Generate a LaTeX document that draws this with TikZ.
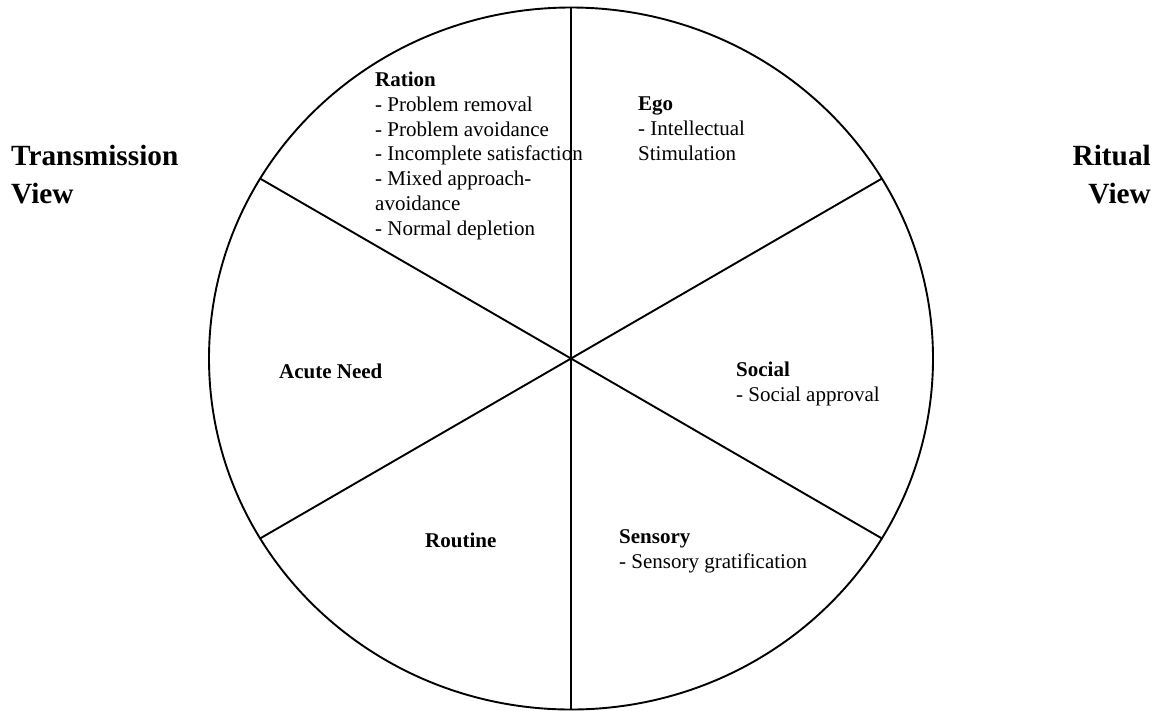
\documentclass[tikz,border=0pt]{standalone}
\usepackage{fontspec}
\setmainfont{Liberation Serif}
\begin{document}
\begin{tikzpicture}[x=1pt,y=-1pt,
  seg/.style={line width=1.9pt, line cap=round},
  lbl/.style={anchor=base west, inner sep=0pt, align=left, font=\fontsize{21}{24.7}\selectfont},
  side/.style={inner sep=0pt, font=\fontsize{29.3}{38}\selectfont\bfseries}]
\useasboundingbox (0,0) rectangle (1153,710);
\coordinate (c) at (571,358.5);
\draw[seg] (c) ellipse [x radius=362, y radius=351];
\coordinate (top) at (571,7.5);
\coordinate (bot) at (571,709.5);
\coordinate (ul) at (260,178.5);
\coordinate (ur) at (882,178.5);
\coordinate (ll) at (260,538.5);
\coordinate (lr) at (882,538.5);
\draw[seg] (top) -- (bot);
\draw[seg] (ul) -- (lr);
\draw[seg] (ur) -- (ll);
% multi-line nodes: base anchor = last line baseline
\node[lbl] (ration) at (375,235) {\textbf{Ration}\\- Problem removal\\- Problem avoidance\\- Incomplete satisfaction\\- Mixed approach-\\avoidance\\- Normal depletion};
\node[lbl] (ego) at (638,160) {\textbf{Ego}\\- Intellectual\\Stimulation};
\node[lbl] (acute) at (279,378) {\textbf{Acute Need}};
\node[lbl] (social) at (736,401) {\textbf{Social}\\- Social approval};
\node[lbl] (routine) at (425,547) {\textbf{Routine}};
\node[lbl] (sensory) at (619,568) {\textbf{Sensory}\\- Sensory gratification};
\node[side, anchor=base west, align=left] (trans) at (11,203) {Transmission\\View};
\node[side, anchor=base east, align=right] (ritual) at (1151,203) {Ritual\\View};
\end{tikzpicture}
\end{document}
